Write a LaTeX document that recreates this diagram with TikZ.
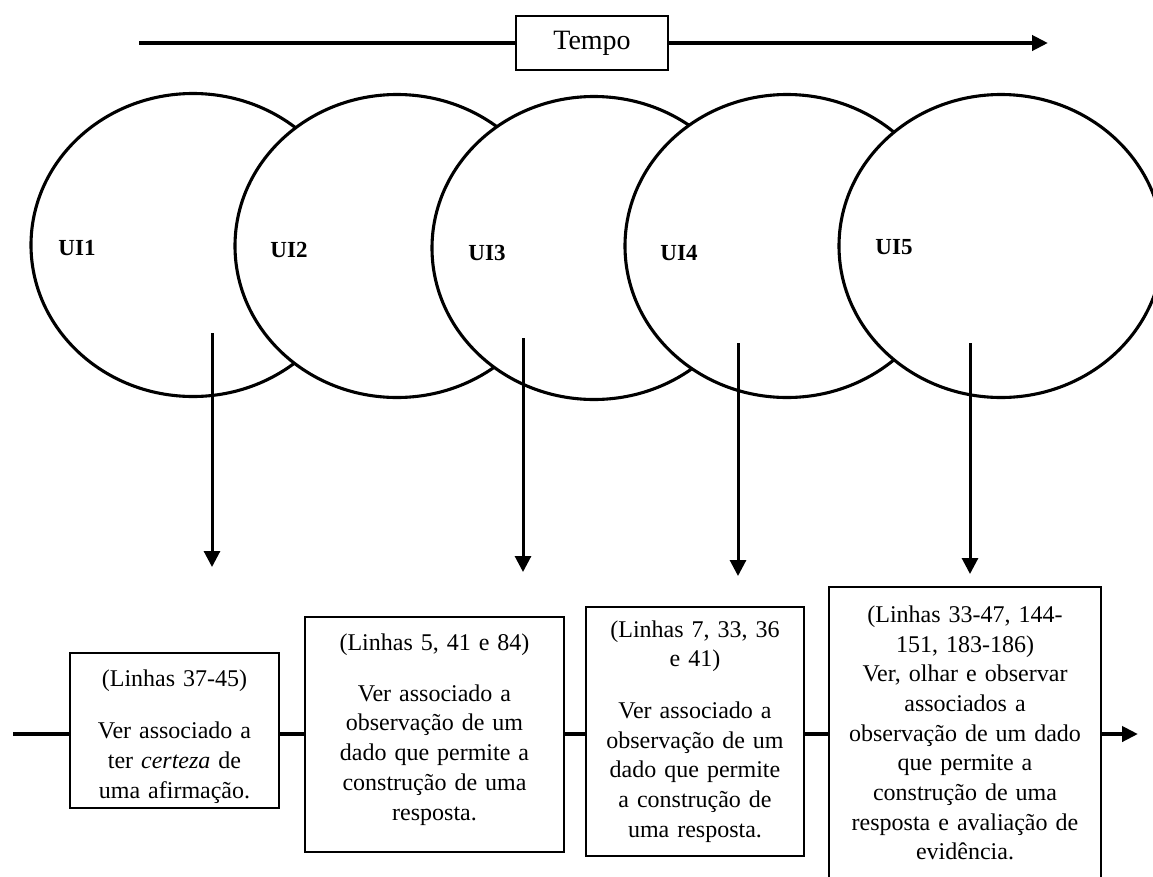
\documentclass[tikz,border=0pt]{standalone}
\usepackage{fontspec}
\setmainfont{Liberation Serif}
\usetikzlibrary{arrows.meta,shapes.geometric}
\begin{document}
\begin{tikzpicture}[x=1pt,y=-1pt,
  unit/.style={ellipse, draw, fill=white, line width=3.1pt, minimum width=324pt, minimum height=303pt, inner sep=0pt},
  uilabel/.style={font=\fontsize{23}{28}\selectfont\bfseries, inner sep=0pt},
  notebox/.style={draw, line width=1.3pt, align=center, inner sep=0pt,
    font=\fontsize{24}{29.7}\selectfont},
  timebox/.style={draw, line width=2.6pt, minimum width=152pt, minimum height=54pt,
    inner sep=0pt, font=\fontsize{28}{32}\selectfont},
  axis/.style={line width=4pt},
  flow/.style={line width=4pt, -{Triangle[length=16pt,width=15pt]}},
  drop/.style={line width=3pt, -{Triangle[length=16pt,width=16pt]}}
]
\clip (0,0) rectangle (1153,876);

% time axis
\node[timebox] (tempo) at (592,43) {Tempo};
\coordinate (T0) at (139,43);
\coordinate (T1) at (1048,43);
\draw[axis] (T0) -- (tempo.west);
\draw[flow] (tempo.east) -- (T1);

% overlapping units, each later one drawn over the previous
\node[unit] (e1) at (193,245) {};
\node[unit] (e2) at (397,246) {};
\node[unit] (e3) at (594,248) {};
\node[unit] (e4) at (787,246) {};
\node[unit] (e5) at (1001,246) {};

\node[uilabel] (u1) at (77,248) {UI1};
\node[uilabel] (u2) at (289,250) {UI2};
\node[uilabel] (u3) at (487,253) {UI3};
\node[uilabel] (u4) at (679,253) {UI4};
\node[uilabel] (u5) at (894,247) {UI5};

% downward arrows
\coordinate (s1) at (212,333); \coordinate (t1) at (212,567);
\coordinate (s2) at (523,338); \coordinate (t2) at (523,572);
\coordinate (s3) at (738,343); \coordinate (t3) at (738,576);
\coordinate (s4) at (970,343); \coordinate (t4) at (970,574);
\draw[drop] (s1) -- (t1);
\draw[drop] (s2) -- (t2);
\draw[drop] (s3) -- (t3);
\draw[drop] (s4) -- (t4);

% description boxes
\node[notebox, text width=205pt, minimum width=209pt, minimum height=155pt] (b1) at (174.5,730.5)
  {\rule{0pt}{29pt}(Linhas 37-45)\\[22pt]Ver associado a\\ter \textit{certeza} de\\uma afirmação.};
\node[notebox, text width=255pt, minimum width=259pt, minimum height=235pt] (b2) at (434.5,734.5)
  {(Linhas 5, 41 e 84)\\[21pt]Ver associado a\\observação de um\\dado que permite a\\construção de uma\\resposta.\rule[-15pt]{0pt}{0pt}};
\node[notebox, text width=214pt, minimum width=218pt, minimum height=249pt] (b3) at (695,731.5)
  {(Linhas 7, 33, 36\\e 41)\\[22pt]Ver associado a\\observação de um\\dado que permite\\a construção de\\uma resposta.};
\node[notebox, text width=268pt, minimum width=272pt, minimum height=292pt] (b4) at (965,733)
  {(Linhas 33-47, 144-\\151, 183-186)\\Ver, olhar e observar\\associados a\\observação de um dado\\que permite a\\construção de uma\\resposta e avaliação de\\evidência.};

% base line through the boxes
\coordinate (L0) at (13,734);
\coordinate (L1) at (1138,734);
\draw[axis] (L0) -- (L0 -| b1.west);
\draw[axis] (b1.east |- L0) -- (b2.west |- L0);
\draw[axis] (b2.east |- L0) -- (b3.west |- L0);
\draw[axis] (b3.east |- L0) -- (b4.west |- L0);
\draw[flow] (b4.east |- L0) -- (L1);
\end{tikzpicture}
\end{document}
